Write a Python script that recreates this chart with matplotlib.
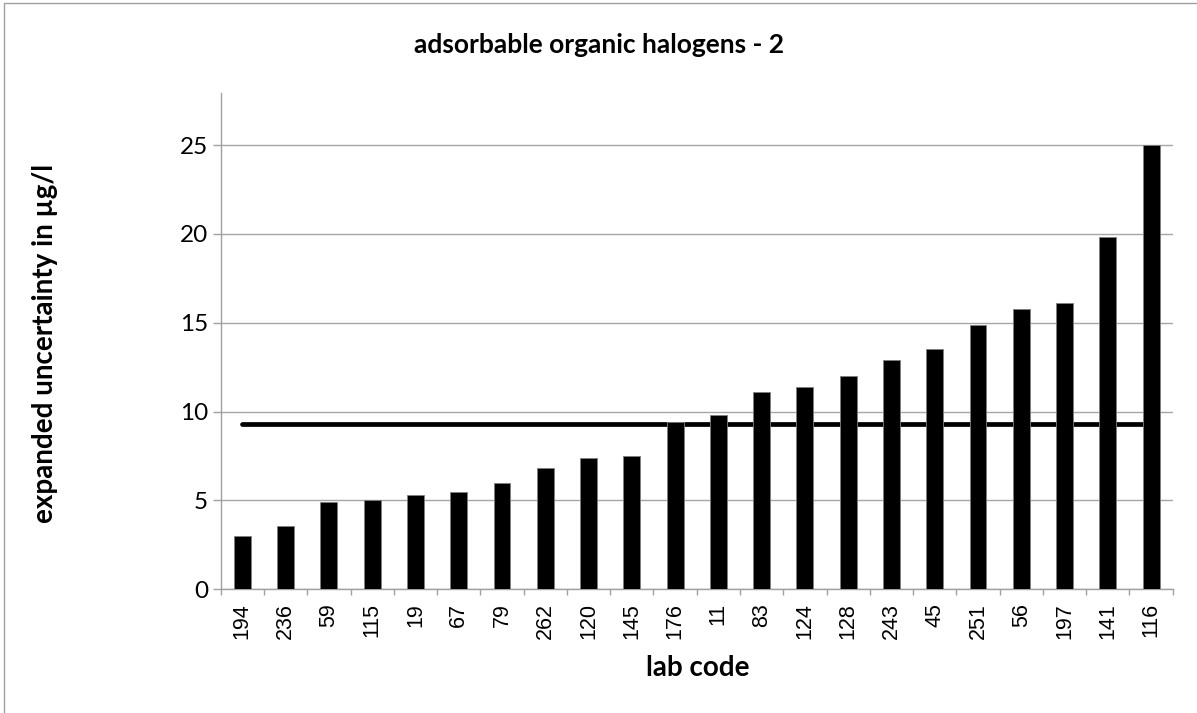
import numpy as np
import matplotlib.pyplot as plt
from matplotlib.patches import Rectangle

labs = ["194", "236", "59", "115", "19", "67", "79", "262", "120", "145", "176",
        "11", "83", "124", "128", "243", "45", "251", "56", "197", "141", "116"]
uncertainty = [3.0, 3.55, 4.9, 5.0, 5.3, 5.5, 6.0, 6.8, 7.4, 7.5, 9.4,
               9.8, 11.1, 11.4, 12.0, 12.9, 13.5, 14.85, 15.8, 16.1, 19.8, 25.0]
reference = 9.3
yticks = [0, 5, 10, 15, 20, 25]

W, H = 1197, 713
fig = plt.figure(figsize=(W / 100, H / 100), dpi=100)

# chart frame
fig.patches.append(Rectangle((4 / W, -0.01), 1.0, (713 - 3) / H + 0.01,
                             transform=fig.transFigure, fill=False,
                             edgecolor="#a0a0a0", linewidth=1))

x0, x1, y0, y1 = 220.7, 1172.7, 589.3, 93.5
ax = fig.add_axes([x0 / W, (H - y0) / H, (x1 - x0) / W, (y0 - y1) / H])

x = np.arange(len(labs))
ax.plot([x[0], x[-1]], [reference, reference], color="black", linewidth=3.4,
        solid_capstyle="round", zorder=2)
ax.bar(x, uncertainty, width=0.39, color="black", edgecolor="#808080",
       linewidth=0.6, zorder=3)

ax.set_xlim(-0.5, len(labs) - 0.5)
ax.set_ylim(0, 27.9)

for s in ["top", "right"]:
    ax.spines[s].set_visible(False)
for s in ["left", "bottom"]:
    ax.spines[s].set_color("#a0a0a0")
    ax.spines[s].set_linewidth(1)

ax.set_yticks(yticks)
ax.set_yticklabels([str(v) for v in yticks], fontfamily="Lato", fontsize=17.5)
ax.tick_params(axis="y", length=6, width=1, color="#a0a0a0", pad=3)
ax.yaxis.grid(True, color="#a6a6a6", linewidth=1)
ax.set_axisbelow(True)

ax.set_xticks(x)
ax.set_xticklabels(labs, rotation=90, fontfamily="Liberation Sans", fontsize=15.5)
ax.set_xticks(np.arange(len(labs) + 1) - 0.5, minor=True)
ax.tick_params(axis="x", which="major", length=0, pad=10)
ax.tick_params(axis="x", which="minor", length=4.5, width=1, color="#a0a0a0")

fig.text(599 / W, 1 - 45 / H, "adsorbable organic halogens - 2", ha="center",
         va="center", fontfamily="Lato", fontweight="bold", fontsize=19)
fig.text(45 / W, 1 - 343 / H, "expanded uncertainty in µg/l", ha="center",
         va="center", rotation=90, fontfamily="Lato", fontweight="bold", fontsize=20)
fig.text(698 / W, 1 - 668 / H, "lab code", ha="center", va="center",
         fontfamily="Lato", fontweight="bold", fontsize=20)

fig.savefig("out.png", dpi=100)
